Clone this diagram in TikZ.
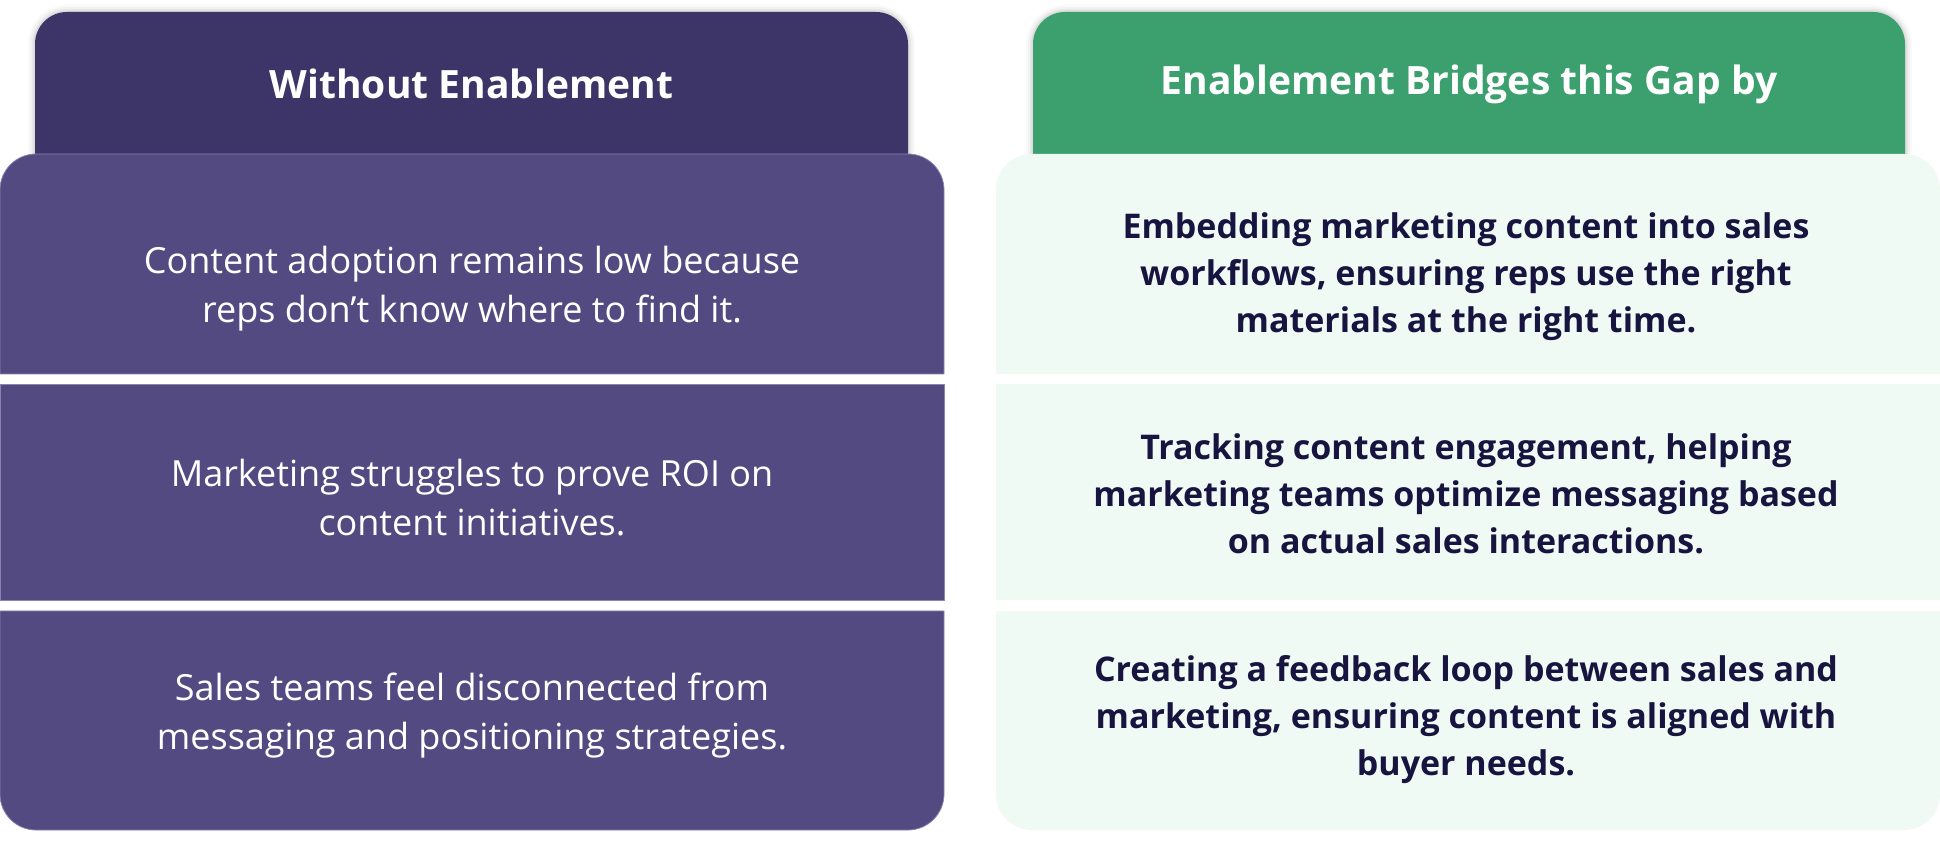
\documentclass[tikz,border=0pt]{standalone}
\usepackage{fontspec}
\setmainfont{Open Sans}
\definecolor{hdrL}{HTML}{3D3468}
\definecolor{bodyL}{HTML}{534A82}
\definecolor{edgeL}{HTML}{8A84AE}
\definecolor{hdrR}{HTML}{3BA06E}
\definecolor{bodyR}{HTML}{F0FAF5}
\definecolor{txtR}{HTML}{17143F}
\tikzset{
  x=1pt, y=1pt,
  hdtext/.style={text=white, font=\fontsize{39}{46}\selectfont\bfseries, align=center, inner sep=0},
  ltext/.style={text=white, font=\fontsize{36}{49}\selectfont, align=center, inner sep=0},
  rtext/.style={text=txtR, font=\fontsize{34}{47}\selectfont\bfseries, align=center, inner sep=0},
}
\begin{document}
\begin{tikzpicture}
\useasboundingbox[fill=white] (0,0) rectangle (1940,841);
% soft shadows of headers
\foreach \w/\o in {14/0.02,10/0.03,6/0.04,3/0.05}{
  \draw[line width=\w, black, opacity=\o] (35,687) -- (35,797) arc[start angle=180,end angle=90,radius=32] -- (876,829) arc[start angle=90,end angle=0,radius=32] -- (908,687);
  \draw[line width=\w, black, opacity=\o] (1033,687) -- (1033,797) arc[start angle=180,end angle=90,radius=32] -- (1873,829) arc[start angle=90,end angle=0,radius=32] -- (1905,687);
}
% headers
\fill[hdrL] (35,687) -- (35,797) arc[start angle=180,end angle=90,radius=32] -- (876,829) arc[start angle=90,end angle=0,radius=32] -- (908,687) -- cycle;
\fill[hdrR] (1033,687) -- (1033,797) arc[start angle=180,end angle=90,radius=32] -- (1873,829) arc[start angle=90,end angle=0,radius=32] -- (1905,687) -- cycle;
% left rows
\filldraw[fill=bodyL, draw=edgeL, line width=0.8] (0,467) -- (0,651) arc[start angle=180,end angle=90,radius=36] -- (908,687) arc[start angle=90,end angle=0,radius=36] -- (944,467) -- cycle;
\filldraw[fill=bodyL, draw=edgeL, line width=0.8] (0,241) rectangle (944,457);
\filldraw[fill=bodyL, draw=edgeL, line width=0.8] (0,230) -- (0,47) arc[start angle=180,end angle=270,radius=36] -- (908,11) arc[start angle=270,end angle=360,radius=36] -- (944,230) -- cycle;
% right rows
\fill[bodyR] (996,467) -- (996,651) arc[start angle=180,end angle=90,radius=36] -- (1904,687) arc[start angle=90,end angle=0,radius=36] -- (1940,467) -- cycle;
\fill[bodyR] (996,241) rectangle (1940,457);
\fill[bodyR] (996,230) -- (996,47) arc[start angle=180,end angle=270,radius=36] -- (1904,11) arc[start angle=270,end angle=360,radius=36] -- (1940,230) -- cycle;
% header texts
\node[hdtext] (hl) at (471.5,757) {Without Enablement};
\node[hdtext] (hr) at (1469,757) {Enablement Bridges this Gap by};
% left texts
\node[ltext] (l1) at (472,552) {Content adoption remains low because\\reps don’t know where to find it.};
\node[ltext] (l2) at (472,343) {Marketing struggles to prove ROI on\\content initiatives.};
\node[ltext] (l3) at (472,125) {Sales teams feel disconnected from\\messaging and positioning strategies.};
% right texts
\node[rtext] (r1) at (1466,564) {Embedding marketing content into sales\\workflows, ensuring reps use the right\\materials at the right time.};
\node[rtext] (r2) at (1466,347) {Tracking content engagement, helping\\marketing teams optimize messaging based\\on actual sales interactions.};
\node[rtext] (r3) at (1466,121) {Creating a feedback loop between sales and\\marketing, ensuring content is aligned with\\buyer needs.};
\end{tikzpicture}
\end{document}
